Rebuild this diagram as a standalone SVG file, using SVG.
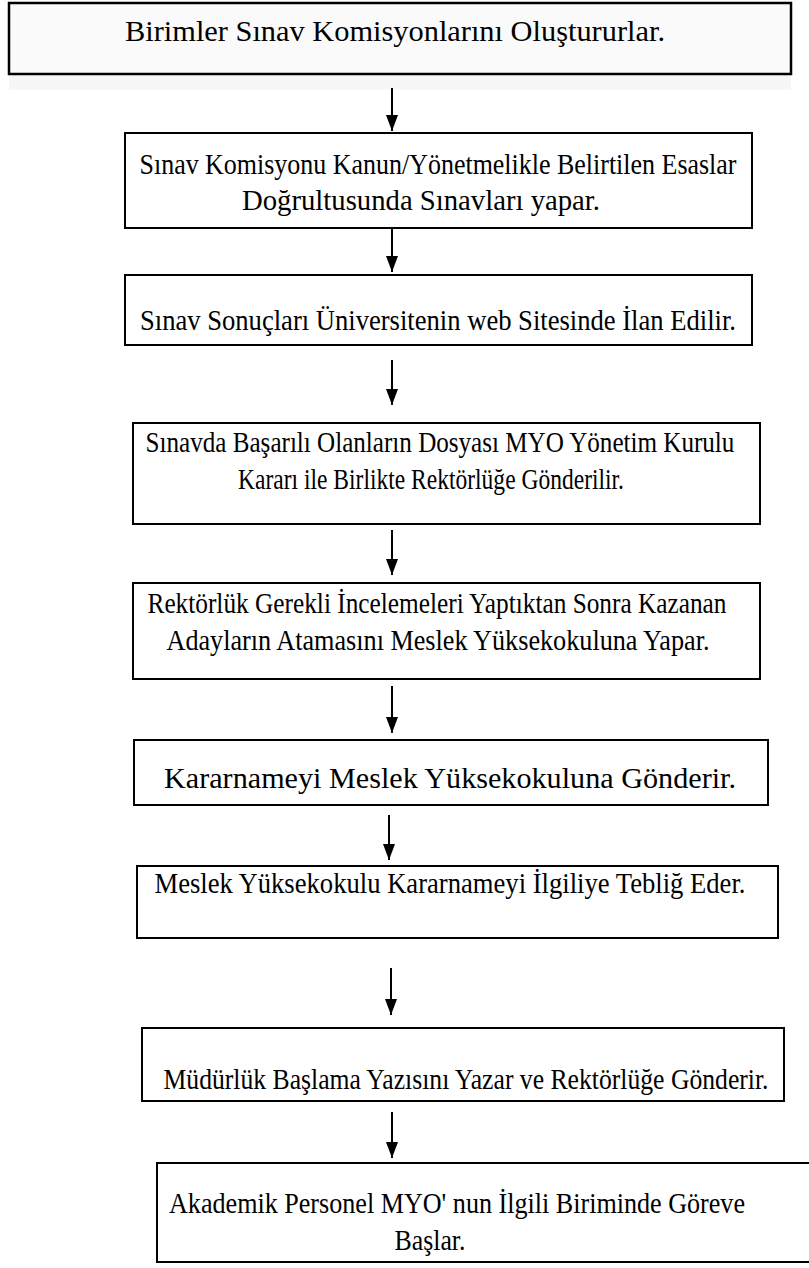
<svg xmlns="http://www.w3.org/2000/svg" width="809" height="1268" viewBox="0 0 809 1268">
<defs>
<style>
.box{fill:#fff;stroke:#000;stroke-width:2}
.t{font-family:"Liberation Serif","Times New Roman",serif;font-size:29px;fill:#000;text-anchor:middle}
.c{stroke:#000;stroke-width:2;fill:none}
</style>
<marker id="ah" viewBox="0 0 16 12" refX="16" refY="6" markerWidth="16" markerHeight="12" markerUnits="userSpaceOnUse" orient="auto">
<path d="M0,0 L16,6 L0,12 Z" fill="#000"/>
</marker>
</defs>
<rect width="809" height="1268" fill="#fff"/>
<g id="n1">
<rect x="9" y="74" width="782" height="16" fill="#f7f7f7"/>
<rect class="box" x="9" y="3" width="782" height="71" style="fill:#fafafa;stroke-width:2.5"/>
<text class="t" x="395" y="41" textLength="540" lengthAdjust="spacingAndGlyphs">Birimler Sınav Komisyonlarını Oluştururlar.</text>
</g>
<g id="n2">
<rect class="box" x="125" y="133" width="627" height="95"/>
<text class="t" x="438" y="174" textLength="597" lengthAdjust="spacingAndGlyphs">Sınav Komisyonu Kanun/Yönetmelikle Belirtilen Esaslar</text>
<text class="t" x="421" y="210" textLength="358" lengthAdjust="spacingAndGlyphs">Doğrultusunda Sınavları yapar.</text>
</g>
<g id="n3">
<rect class="box" x="125" y="275" width="627" height="70"/>
<text class="t" x="438" y="330" textLength="596" lengthAdjust="spacingAndGlyphs">Sınav Sonuçları Üniversitenin web Sitesinde İlan Edilir.</text>
</g>
<g id="n4">
<rect class="box" x="133" y="423" width="627" height="101"/>
<text class="t" transform="translate(440,452) scale(0.866,1)" x="0" y="0">Sınavda Başarılı Olanların Dosyası MYO Yönetim Kurulu</text>
<text class="t" x="431" y="489" textLength="386" lengthAdjust="spacingAndGlyphs">Kararı ile Birlikte Rektörlüğe Gönderilir.</text>
</g>
<g id="n5">
<rect class="box" x="133" y="583" width="627" height="96"/>
<text class="t" x="437" y="613" textLength="579" lengthAdjust="spacingAndGlyphs">Rektörlük Gerekli İncelemeleri Yaptıktan Sonra Kazanan</text>
<text class="t" x="438" y="650" textLength="543" lengthAdjust="spacingAndGlyphs">Adayların Atamasını Meslek Yüksekokuluna Yapar.</text>
</g>
<g id="n6">
<rect class="box" x="134" y="740" width="634" height="65"/>
<text class="t" x="450" y="788" textLength="572" lengthAdjust="spacingAndGlyphs">Kararnameyi Meslek Yüksekokuluna Gönderir.</text>
</g>
<g id="n7">
<rect class="box" x="137" y="866" width="641" height="72"/>
<text class="t" x="450" y="893" textLength="591" lengthAdjust="spacingAndGlyphs">Meslek Yüksekokulu Kararnameyi İlgiliye Tebliğ Eder.</text>
</g>
<g id="n8">
<rect class="box" x="142" y="1028" width="642" height="73"/>
<text class="t" transform="translate(466,1089) scale(0.885,1)" x="0" y="0">Müdürlük Başlama Yazısını Yazar ve Rektörlüğe Gönderir.</text>
</g>
<g id="n9">
<rect class="box" x="157" y="1163" width="680" height="99"/>
<text class="t" x="457" y="1213" textLength="576" lengthAdjust="spacingAndGlyphs">Akademik Personel MYO' nun İlgili Biriminde Göreve</text>
<text class="t" x="430" y="1250" textLength="71" lengthAdjust="spacingAndGlyphs">Başlar.</text>
</g>
<g id="connectors">
<line class="c" x1="392" y1="88" x2="392" y2="131" marker-end="url(#ah)"/>
<line class="c" x1="392" y1="229" x2="392" y2="272" marker-end="url(#ah)"/>
<line class="c" x1="392" y1="360" x2="392" y2="405" marker-end="url(#ah)"/>
<line class="c" x1="392" y1="530" x2="392" y2="575" marker-end="url(#ah)"/>
<line class="c" x1="392" y1="686" x2="392" y2="733" marker-end="url(#ah)"/>
<line class="c" x1="389" y1="815" x2="389" y2="860" marker-end="url(#ah)"/>
<line class="c" x1="391" y1="968" x2="391" y2="1015" marker-end="url(#ah)"/>
<line class="c" x1="392" y1="1112" x2="392" y2="1158" marker-end="url(#ah)"/>
</g>
</svg>
